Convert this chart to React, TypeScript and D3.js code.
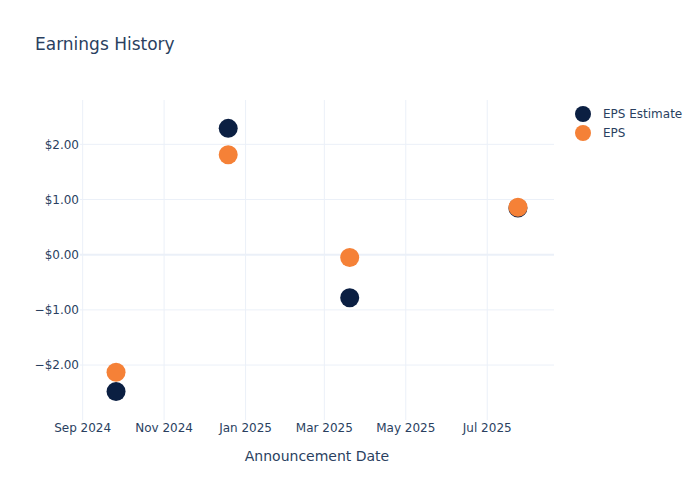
import React from "react";
import * as d3 from "d3";

const dates = ["2024-09-26", "2024-12-19", "2025-03-20", "2025-07-24"];
const epsEstimate = [-2.48, 2.29, -0.78, 0.845];
const eps = [-2.13, 1.81, -0.05, 0.86];
const seriesNames = ["EPS Estimate", "EPS"];
const seriesColors = ["#0b1f42", "#f58137"];
const xTicks = ["2024-09-01", "2024-11-01", "2025-01-01", "2025-03-01", "2025-05-01", "2025-07-01"];
const yTicks = [-2, -1, 0, 1, 2];

const W = 700, H = 500;
const L = 80, R = 554, T = 100, B = 420;
const font = "'DejaVu Sans', 'Open Sans', sans-serif";
const textColor = "#2a3f5f";
const gridColor = "#ebf0f8";

export default function App() {
  const parse = (s: string) => new Date(s + "T00:00:00Z");
  const x = d3.scaleUtc().domain([parse("2024-08-30"), parse("2025-08-20")]).range([L, R]);
  const y = d3.scaleLinear().domain([-2.996, 2.804]).range([B, T]);
  const fmtX = d3.utcFormat("%b %Y");
  const fmtY = (v: number) => (v < 0 ? "\u2212$" : "$") + Math.abs(v).toFixed(2);
  const series = [epsEstimate, eps];
  return (
    <svg width={W} height={H} style={{ position: "absolute", left: 0, top: 0, fontFamily: font }}>
      <rect x={0} y={0} width={W} height={H} fill="#fff" />
      {xTicks.map((t) => (
        <line key={t} x1={x(parse(t))} x2={x(parse(t))} y1={T} y2={B} stroke={gridColor} strokeWidth={1} />
      ))}
      {yTicks.map((t) => (
        <line key={t} x1={L} x2={R} y1={y(t)} y2={y(t)} stroke={gridColor} strokeWidth={t === 0 ? 2 : 1} />
      ))}
      {xTicks.map((t) => (
        <text key={t} x={x(parse(t))} y={428} dy="0.35em" textAnchor="middle" fontSize={12} fill={textColor}>
          {fmtX(parse(t))}
        </text>
      ))}
      {yTicks.map((t) => (
        <text key={t} x={79} y={y(t)} dy="0.35em" textAnchor="end" fontSize={12} fill={textColor}>
          {fmtY(t)}
        </text>
      ))}
      {series.map((vals, si) =>
        vals.map((v, i) => (
          <circle key={si + "-" + i} cx={x(parse(dates[i]))} cy={y(v)} r={9.5} fill={seriesColors[si]} />
        ))
      )}
      <text x={35} y={50} fontSize={17} fill={textColor}>Earnings History</text>
      <text x={(L + R) / 2} y={461} textAnchor="middle" fontSize={14} fill={textColor}>Announcement Date</text>
      {seriesNames.map((n, i) => (
        <g key={n} transform={`translate(583, ${114 + i * 19})`}>
          <circle cx={0} cy={0} r={8} fill={seriesColors[i]} />
          <text x={20} y={0} dy="0.35em" fontSize={12} fill={textColor}>{n}</text>
        </g>
      ))}
    </svg>
  );
}
